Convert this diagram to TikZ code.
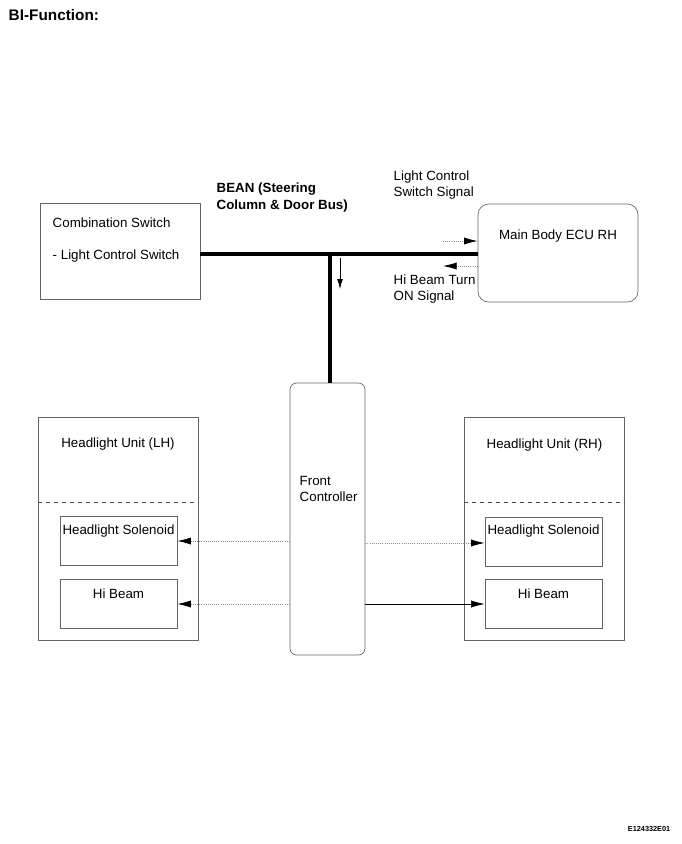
\documentclass[tikz,border=0pt]{standalone}
\usepackage{fontspec}
\setmainfont{Liberation Sans}
\usetikzlibrary{arrows.meta}

\begin{document}
\begin{tikzpicture}[x=0.75pt,y=-0.75pt,font=\fontsize{10}{12}\selectfont,
  >={Latex[length=3.6mm,width=1.9mm,color=black]},
  box/.style={draw=black!60,line width=0.5pt,inner sep=0pt},
  part/.style={box,minimum width=87.75pt,minimum height=36.75pt},
  unit/.style={box,minimum width=120pt,minimum height=167.5pt},
  bus/.style={line width=3.6pt},
  sig/.style={->,draw=black!45,densely dotted,line width=0.6pt},
  wire/.style={->,line width=0.5pt},
  sep/.style={draw=black!70,dashed,line width=0.5pt}]
\useasboundingbox (0,0) rectangle (682,844);
\node[anchor=west,font=\fontsize{11.5}{13}\selectfont\bfseries] (title) at (4,15) {BI-Function:};
% upper row
\node[box,minimum width=120pt,minimum height=72pt] (comb) at (120,251) {};
\node[anchor=west] (combtxt) at (48,223) {Combination Switch};
\node[anchor=west] (lcs) at (48,256) {- Light Control Switch};
\node[box,rounded corners=8pt,minimum width=120pt,minimum height=73.5pt,
  label={[anchor=center,yshift=-24pt]north:Main Body ECU RH}] (ecu) at (558,253) {};
\node[anchor=west,align=left,font=\fontsize{10}{12.75}\selectfont\bfseries] (bean) at (212,198)
  {BEAN (Steering\\Column \& Door Bus)};
\node[anchor=west,align=left] (lcsig) at (389,185) {Light Control\\Switch Signal};
\node[anchor=west,align=left] (hbsig) at (389,289) {Hi Beam Turn\\ON Signal};
% front controller and headlights
\node[box,rounded corners=5pt,minimum width=56.25pt,minimum height=204pt] (front) at (327.5,519) {};
\node[anchor=west,align=left] (fronttxt) at (295,489) {Front\\Controller};
\node[unit,label={[anchor=center,yshift=-21pt]north:Headlight Unit (LH)}] (lhu) at (118,528.5) {};
\node[unit,label={[anchor=center,yshift=-21pt]north:Headlight Unit (RH)}] (rhu) at (544.5,529) {};
\draw[sep] ([yshift=-64pt]lhu.north west) -- ([yshift=-64pt]lhu.north east);
\draw[sep] ([yshift=-64pt]rhu.north west) -- ([yshift=-64pt]rhu.north east);
\node[part,label={[anchor=center,yshift=-11pt]north:Headlight Solenoid}] (lsol) at (118.5,541) {};
\node[part,label={[anchor=center,yshift=-11pt]north:Hi Beam}] (lhb) at (118.5,603.5) {};
\node[part,label={[anchor=center,yshift=-11pt]north:Headlight Solenoid}] (rsol) at (543.5,541.5) {};
\node[part,label={[anchor=center,yshift=-11pt]north:Hi Beam}] (rhb) at (543.5,604) {};
% bus
\coordinate (tee) at (330,254);
\draw[bus] (comb.east |- tee) -- (ecu.west |- tee);
\draw[bus] (tee) -- (tee |- front.north);
\coordinate (dn1) at (340,258); \coordinate (dn2) at (340,289);
\draw[-{Latex[length=2.6mm,width=1.5mm]},line width=0.5pt] (dn1) -- (dn2);
\coordinate (rs1) at (443,241); \coordinate (ls1) at (443,266);
\draw[sig] (rs1) -- (rs1 -| ecu.west);
\draw[sig] (ls1 -| ecu.west) -- (ls1);
% outputs
\draw[sig] (front.west |- lsol.east) -- (lsol.east);
\draw[sig] (front.west |- 0,604) -- (lhb.east |- 0,604);
\draw[sig] (front.east |- 0,543) -- (rsol.west |- 0,543);
\draw[wire] (front.east |- rhb.west) -- (rhb.west);
\node[anchor=east,font=\fontsize{5.5}{6}\selectfont\bfseries] (code) at (675,829) {E124332E01};
\end{tikzpicture}
\end{document}
